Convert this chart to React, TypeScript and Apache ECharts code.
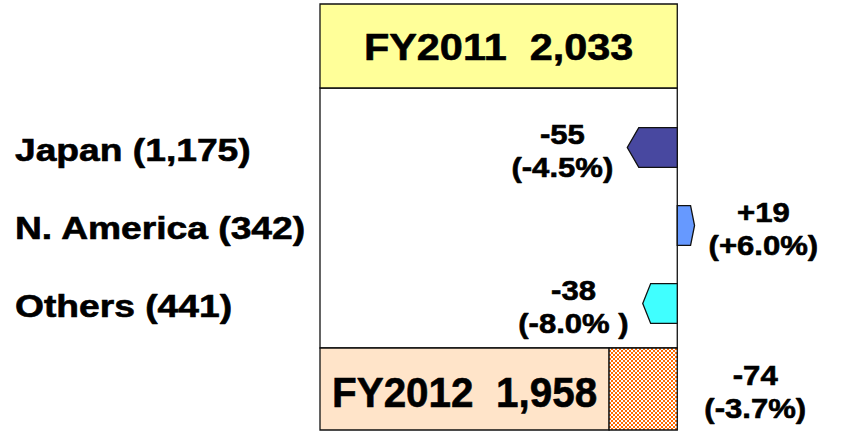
import React, { useEffect, useRef } from "react";
import * as echarts from "echarts";

// ---- data ----
const fy2011Label = "FY2011";
const fy2011Total = 2033;
const fy2012Label = "FY2012";
const fy2012Total = 1958;
const regionNames = ["Japan", "N. America", "Others"];
const regionFY2012 = [1175, 342, 441];
const regionChange = [-55, 19, -38];
const regionChangePctText = ["(-4.5%)", "(+6.0%)", "(-8.0% )"];
const totalChange = -74;
const totalChangePctText = "(-3.7%)";

// ---- axis range (broken axis: starts well above zero) ----
const axisMin = 1640;
const axisMax = 2080;

// ---- styles / layout ----
const FONT = '"Liberation Sans", Arial, Helvetica, sans-serif';
const regionColors = ["#4848A0", "#6699FF", "#40FFFF"];
const YELLOW = "#FFFF99";
const PEACH = "#FFE4C9";
const HATCH = "#FF6A00";
const EDGE = "#111111";
const VSIZE = 27.5;
const VSCALE = 1.13;
const LSIZE = 31;
const LSCALE = 1.2;
const MID_TOP = 88;
const MID_BOTTOM = 348;
const LEFT_LABEL_X = 15;
const BAR_GAP = 14;
const TOTAL_GAP = 27;
const EMBOLDEN = 0.6;

const fmt = (n: number) => n.toLocaleString("en-US");
const signed = (n: number) => (n > 0 ? "+" + n : String(n));

export default function App() {
  const ref = useRef<HTMLDivElement>(null);
  useEffect(() => {
    document.body.style.margin = "0";
    const el = ref.current!;
    const chart = echarts.init(el, null, { renderer: "svg" });

    const mc = document.createElement("canvas").getContext("2d")!;
    const tw = (t: string, size: number) => {
      mc.font = `bold ${size}px ${FONT}`;
      return mc.measureText(t).width;
    };

    const txtStyle = (text: string, size: number, align: string) => ({
      text,
      font: `bold ${size}px ${FONT}`,
      fill: "#000",
      stroke: "#000",
      lineWidth: EMBOLDEN,
      align,
      verticalAlign: "middle",
    });

    const valueLabel = (cx: number, cy: number, l1: string, l2: string) => [
      { type: "text", x: cx, y: cy - 16.5, scaleX: VSCALE, style: txtStyle(l1, VSIZE, "center") },
      { type: "text", x: cx, y: cy + 16.5, scaleX: VSCALE, style: txtStyle(l2, VSIZE, "center") },
    ];

    const option: any = {
      animation: false,
      grid: [
        { left: 320, width: 400, top: 4, height: 84 },
        { left: 320, width: 400, top: 108.5, height: 234 },
        { left: 320, width: 400, top: 348, height: 82 },
      ],
      xAxis: [0, 1, 2].map((g) => ({ type: "value", gridIndex: g, min: axisMin, max: axisMax, show: false })),
      yAxis: [
        { type: "category", gridIndex: 0, data: [fy2011Label], show: false },
        { type: "category", gridIndex: 1, data: regionNames, inverse: true, show: false },
        { type: "category", gridIndex: 2, data: [fy2012Label], show: false },
      ],
      series: [
        // white frame between the two totals
        {
          type: "custom",
          xAxisIndex: 1,
          yAxisIndex: 1,
          z: 1,
          data: [[fy2011Total, 0]],
          renderItem: (params: any, api: any) => {
            const xL = api.coord([axisMin, 0])[0];
            const xR = api.coord([api.value(0), 0])[0];
            return {
              type: "rect",
              shape: { x: xL, y: MID_TOP, width: xR - xL, height: MID_BOTTOM - MID_TOP },
              style: { fill: "#FFFFFF", stroke: EDGE, lineWidth: 1.3 },
            };
          },
        },
        // FY2011 total box
        {
          type: "custom",
          xAxisIndex: 0,
          yAxisIndex: 0,
          z: 2,
          data: [[fy2011Total, 0]],
          renderItem: (params: any, api: any) => {
            const xL = api.coord([axisMin, 0])[0];
            const [xR, cy] = api.coord([api.value(0), 0]);
            const h = api.size([0, 1])[1];
            return {
              type: "group",
              children: [
                {
                  type: "rect",
                  shape: { x: xL, y: cy - h / 2, width: xR - xL, height: h },
                  style: { fill: YELLOW, stroke: EDGE, lineWidth: 1.3 },
                },
                {
                  type: "text",
                  x: (xL + xR) / 2,
                  y: cy + 0.5,
                  scaleX: 1.12,
                  style: txtStyle(`${fy2011Label}  ${fmt(fy2011Total)}`, 37, "center"),
                },
              ],
            };
          },
        },
        // regional changes
        {
          type: "custom",
          xAxisIndex: 1,
          yAxisIndex: 1,
          z: 3,
          data: regionChange.map((c, i) => [fy2011Total + c, i]),
          renderItem: (params: any, api: any) => {
            const i = params.dataIndex;
            const [x0, cy] = api.coord([fy2011Total, i]);
            const x1 = api.coord([api.value(0), i])[0];
            const bh = api.size([0, 1])[1] * 0.51;
            const dir = x1 >= x0 ? 1 : -1;
            const len = Math.abs(x1 - x0);
            const xb = x1 - dir * len * 0.23;
            const l1 = signed(regionChange[i]);
            const l2 = regionChangePctText[i];
            const w = Math.max(tw(l1, VSIZE), tw(l2, VSIZE)) * VSCALE;
            const cx = x1 + dir * (BAR_GAP + w / 2);
            const ly = cy + 3;
            return {
              type: "group",
              children: [
                {
                  type: "polygon",
                  shape: {
                    points: [
                      [x0, cy - bh / 2],
                      [xb, cy - bh / 2],
                      [x1, cy],
                      [xb, cy + bh / 2],
                      [x0, cy + bh / 2],
                    ],
                  },
                  style: { fill: regionColors[i], stroke: EDGE, lineWidth: 1.3 },
                },
                ...valueLabel(cx, ly, l1, l2),
                {
                  type: "text",
                  x: LEFT_LABEL_X,
                  y: ly,
                  scaleX: LSCALE,
                  style: txtStyle(`${regionNames[i]} (${fmt(regionFY2012[i])})`, LSIZE, "left"),
                },
              ],
            };
          },
        },
        // FY2012 total box + total change
        {
          type: "custom",
          xAxisIndex: 2,
          yAxisIndex: 2,
          z: 2,
          data: [[fy2012Total, 0]],
          renderItem: (params: any, api: any) => {
            const xL = api.coord([axisMin, 0])[0];
            const [xM, cy] = api.coord([api.value(0), 0]);
            const xR = api.coord([fy2011Total, 0])[0];
            const h = api.size([0, 1])[1];
            const top = cy - h / 2;
            const l1 = signed(totalChange);
            const l2 = totalChangePctText;
            const w = Math.max(tw(l1, VSIZE), tw(l2, VSIZE)) * VSCALE;
            // checkerboard hatch: orange base with white dashed rows
            const hx0 = Math.round(xM);
            const hx1 = Math.round(xR);
            const rows: any[] = [];
            const nRows = Math.floor(h / 2);
            for (let r = 0; r < nRows; r++) {
              const y = Math.round(top) + 2 * r + 1;
              rows.push({
                type: "line",
                silent: true,
                shape: { x1: hx0, y1: y, x2: hx1, y2: y },
                style: {
                  stroke: "#FFFFFF",
                  lineWidth: 2,
                  lineDash: [2, 2],
                  lineDashOffset: (r % 2) * 2,
                  lineCap: "butt",
                },
              });
            }
            return {
              type: "group",
              children: [
                {
                  type: "rect",
                  shape: { x: xL, y: top, width: xM - xL, height: h },
                  style: { fill: PEACH, stroke: EDGE, lineWidth: 1.3 },
                },
                {
                  type: "rect",
                  shape: { x: xM, y: top, width: xR - xM, height: h },
                  style: { fill: HATCH },
                },
                ...rows,
                {
                  type: "rect",
                  shape: { x: xM, y: top, width: xR - xM, height: h },
                  style: { fill: "none", stroke: EDGE, lineWidth: 1.3 },
                },
                {
                  type: "text",
                  x: (xL + xM) / 2,
                  y: cy + 3,
                  scaleX: 0.94,
                  style: txtStyle(`${fy2012Label}  ${fmt(fy2012Total)}`, 43, "center"),
                },
                ...valueLabel(xR + TOTAL_GAP + w / 2, cy + 2.5, l1, l2),
              ],
            };
          },
        },
      ],
    };

    chart.setOption(option);
    return () => chart.dispose();
  }, []);
  return <div ref={ref} style={{ width: 841, height: 433 }} />;
}
